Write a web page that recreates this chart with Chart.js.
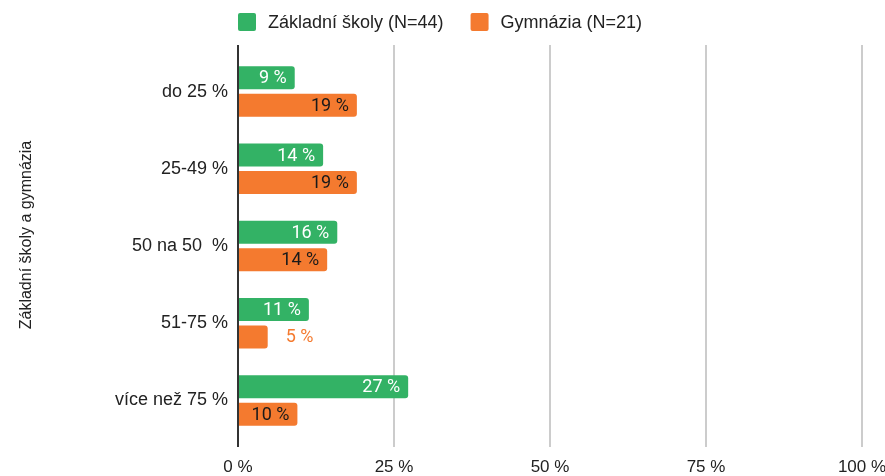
<!DOCTYPE html>
<html><head><meta charset="utf-8">
<script src="https://cdn.jsdelivr.net/npm/chart.js@4.4.0/dist/chart.umd.min.js"></script>
<style>html,body{margin:0;padding:0;background:#fff}#wrap{width:885px;height:476px;position:relative}</style>
</head><body><div id="wrap"><canvas id="c"></canvas></div>
<script>
const categories = ['do 25 %', '25-49 %', '50 na 50  %', '51-75 %', 'více než 75 %'];
const seriesNames = ['Základní školy (N=44)', 'Gymnázia (N=21)'];
const zakladniSkoly = [9.09, 13.64, 15.91, 11.36, 27.27];
const gymnazia = [19.05, 19.05, 14.29, 4.76, 9.52];
const xTicks = [0, 25, 50, 75, 100];
const axisTitle = 'Základní školy a gymnázia';

const GREEN = '#33b265';
const ORANGE = '#f47a2f';
const FONT = '"Liberation Sans", Arial, sans-serif';
const LABEL_FONT = 'Roboto, "Liberation Sans", sans-serif';

const gridPlugin = {
  id: 'gridPlugin',
  beforeDatasetsDraw(chart) {
    const ctx = chart.ctx, xs = chart.scales.x, a = chart.chartArea;
    ctx.save();
    ctx.strokeStyle = '#cccccc';
    ctx.lineWidth = 2;
    xTicks.forEach(v => {
      if (v === 0) return;
      const px = Math.round(xs.getPixelForValue(v));
      ctx.beginPath();
      ctx.moveTo(px, a.top - 8);
      ctx.lineTo(px, a.bottom + 8);
      ctx.stroke();
    });
    ctx.restore();
  },
  afterDatasetsDraw(chart) {
    const ctx = chart.ctx, xs = chart.scales.x, a = chart.chartArea;
    ctx.save();
    ctx.font = '18px ' + LABEL_FONT;
    ctx.textBaseline = 'middle';
    chart.data.datasets.forEach((ds, di) => {
      const meta = chart.getDatasetMeta(di);
      meta.data.forEach((bar, i) => {
        const v = ds.data[i];
        const txt = Math.round(v) + ' %';
        const w = ctx.measureText(txt).width;
        const len = bar.x - bar.base;
        if (w + 16 <= len) {
          ctx.fillStyle = di === 0 ? '#ffffff' : '#1a1a1a';
          ctx.textAlign = 'right';
          ctx.fillText(txt, bar.x - 8, bar.y + 1);
        } else {
          ctx.fillStyle = ds.backgroundColor;
          ctx.textAlign = 'left';
          ctx.fillText(txt, bar.x + 18, bar.y + 1);
        }
      });
    });
    const px0 = Math.round(xs.getPixelForValue(0));
    ctx.strokeStyle = '#333333';
    ctx.lineWidth = 2;
    ctx.beginPath();
    ctx.moveTo(px0, a.top - 8);
    ctx.lineTo(px0, a.bottom + 8);
    ctx.stroke();
    ctx.restore();
  },
  afterDraw(chart) {
    const ctx = chart.ctx, a = chart.chartArea;
    ctx.save();
    // legend
    ctx.font = '18px ' + FONT;
    ctx.textBaseline = 'middle';
    ctx.textAlign = 'left';
    let x = a.left;
    const boxTop = 13, box = 18;
    chart.data.datasets.forEach((ds, i) => {
      ctx.fillStyle = ds.backgroundColor;
      ctx.beginPath();
      ctx.roundRect(x, boxTop, box, box, 2);
      ctx.fill();
      ctx.fillStyle = '#222222';
      ctx.fillText(ds.label, x + box + 12, boxTop + box / 2 + 1);
      x += box + 12 + ctx.measureText(ds.label).width + 27;
    });
    // vertical axis title
    ctx.font = '16px ' + FONT;
    ctx.fillStyle = '#222222';
    ctx.textAlign = 'center';
    ctx.translate(27, (a.top + a.bottom) / 2 - 11);
    ctx.rotate(-Math.PI / 2);
    ctx.fillText(axisTitle, 0, 0);
    ctx.restore();
  }
};

new Chart(document.getElementById('c'), {
  type: 'bar',
  data: {
    labels: categories,
    datasets: [
      { label: seriesNames[0], data: zakladniSkoly, backgroundColor: GREEN },
      { label: seriesNames[1], data: gymnazia, backgroundColor: ORANGE }
    ]
  },
  options: {
    indexAxis: 'y',
    responsive: true,
    maintainAspectRatio: false,
    animation: false,
    layout: { padding: { top: 53, right: 23, left: 0, bottom: 0 } },
    datasets: { bar: { categoryPercentage: 0.712, barPercentage: 0.836, borderRadius: 3, borderSkipped: 'start' } },
    plugins: { legend: { display: false }, tooltip: { enabled: false } },
    scales: {
      x: {
        type: 'linear', min: 0, max: 100,
        afterBuildTicks(scale) { scale.ticks = xTicks.map(v => ({ value: v })); },
        afterFit(scale) { scale.height = 37; scale.paddingRight = 20; scale.paddingLeft = 0; },
        grid: { display: false, drawTicks: false },
        border: { display: false },
        ticks: { padding: 18, color: '#222222', font: { family: FONT, size: 17 }, maxRotation: 0, callback: v => v + ' %' }
      },
      y: {
        type: 'category',
        afterFit(scale) { scale.width = 238; },
        grid: { display: false, drawTicks: false },
        border: { display: false },
        ticks: { padding: 10, color: '#222222', font: { family: FONT, size: 18 } }
      }
    }
  },
  plugins: [gridPlugin]
});
</script></body></html>
